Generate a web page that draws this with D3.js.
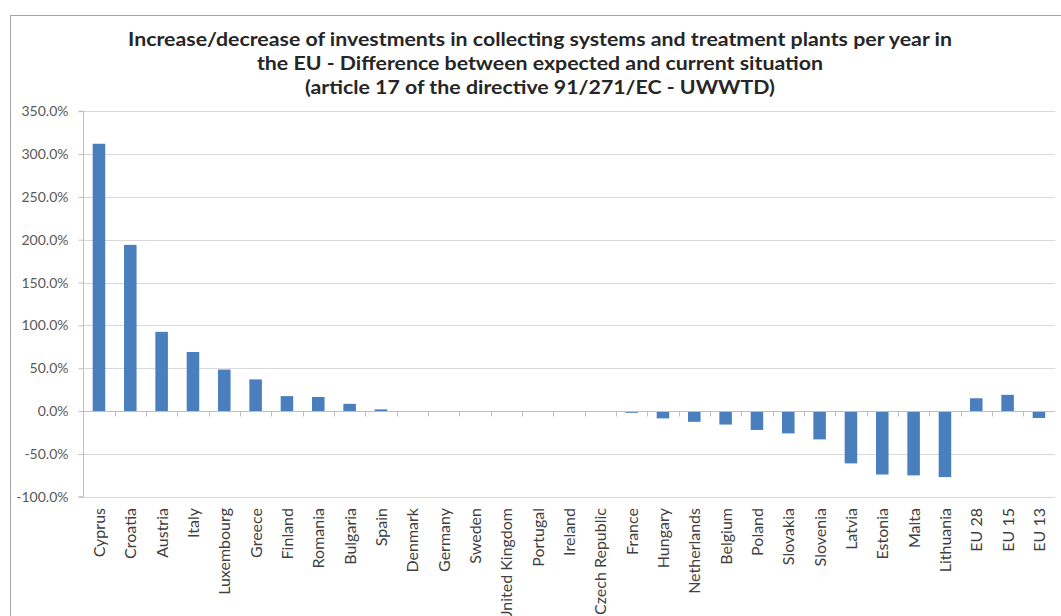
<!DOCTYPE html>
<html>
<head>
<meta charset="utf-8">
<script src="https://cdn.jsdelivr.net/npm/d3@7"></script>
<style>
  body { margin: 0; background: #fff; }
  svg { display: block; font-family: Lato, "Open Sans", sans-serif; }
</style>
</head>
<body>
<svg id="chart" width="1061" height="616"></svg>
<script>
// values (percent)
const countries = ["Cyprus", "Croatia", "Austria", "Italy", "Luxembourg", "Greece", "Finland", "Romania",
  "Bulgaria", "Spain", "Denmark", "Germany", "Sweden", "United Kingdom", "Portugal", "Ireland",
  "Czech Republic", "France", "Hungary", "Netherlands", "Belgium", "Poland", "Slovakia", "Slovenia",
  "Latvia", "Estonia", "Malta", "Lithuania", "EU 28", "EU 15", "EU 13"];
const change = [312, 194, 92.5, 69, 48.5, 37, 17.5, 16.5,
  8.5, 2, 0, 0, 0, 0, 0, 0,
  0, -2, -8.5, -12.5, -15.7, -22, -26, -33,
  -61, -74, -75, -77, 15, 19, -8];
const yTicks = [350, 300, 250, 200, 150, 100, 50, 0, -50, -100];
const titleLines = [
  "Increase/decrease of investments in collecting systems and treatment plants per year in",
  "the EU - Difference between expected and current situation",
  "(article 17 of the directive 91/271/EC - UWWTD)"
];

const svg = d3.select("#chart");

// chart frame
svg.append("rect")
  .attr("x", 10.5).attr("y", 15.5)
  .attr("width", 1070).attr("height", 620)
  .attr("fill", "#fff")
  .attr("stroke", "#a6a6a6");

const x = d3.scaleBand()
  .domain(countries)
  .range([83.3, 1054.6])
  .paddingInner(0.6)
  .paddingOuter(0.3);

const y = d3.scaleLinear()
  .domain([-100, 350])
  .range([496.8, 111.2]);

// gridlines
svg.append("g")
  .selectAll("line")
  .data(yTicks)
  .join("line")
  .attr("x1", 83).attr("x2", 1055)
  .attr("y1", d => Math.round(y(d)) + 0.5)
  .attr("y2", d => Math.round(y(d)) + 0.5)
  .attr("stroke", "#d9d9d9")
  .attr("stroke-width", 1.2);

// y axis
const yAxis = svg.append("g")
  .attr("transform", "translate(83.5,0)")
  .call(d3.axisLeft(y).tickValues(yTicks).tickSize(5).tickPadding(10)
    .tickFormat(d => d.toFixed(1) + "%"));
yAxis.select(".domain").attr("stroke", "#bfbfbf").attr("d", `M-5,${y(350)}H0V${y(-100)}H-5`);
yAxis.selectAll(".tick line").attr("stroke", "#bfbfbf");
yAxis.selectAll(".tick text")
  .attr("fill", "#595959")
  .style("font-size", "14px")
  .style("font-family", "Lato, sans-serif");

// bars
svg.append("g")
  .selectAll("rect")
  .data(countries.map((c, i) => ({ c, v: change[i] })))
  .join("rect")
  .attr("x", d => x(d.c))
  .attr("width", x.bandwidth())
  .attr("y", d => y(Math.max(0, d.v)))
  .attr("height", d => Math.abs(y(d.v) - y(0)))
  .attr("fill", "#4a7fbd");

// category axis on zero line
const gap = (x.step() - x.bandwidth()) / 2;
const z = Math.round(y(0)) + 0.5;
svg.append("line")
  .attr("x1", 83).attr("x2", 1055)
  .attr("y1", z).attr("y2", z)
  .attr("stroke", "#bfbfbf");
svg.append("g")
  .selectAll("line")
  .data(countries.slice(1))
  .join("line")
  .attr("x1", d => Math.round(x(d) - gap) + 0.5)
  .attr("x2", d => Math.round(x(d) - gap) + 0.5)
  .attr("y1", z).attr("y2", z + 5)
  .attr("stroke", "#bfbfbf");

// category labels (long ones run off the bottom, as in the original)
svg.append("g")
  .selectAll("text")
  .data(countries)
  .join("text")
  .attr("transform", d => `translate(${x(d) + x.bandwidth() / 2 + 6},508) rotate(-90)`)
  .attr("text-anchor", "end")
  .attr("fill", "#404040")
  .style("font-size", "16px")
  .text(d => d);

// title, squeezed horizontally like the narrow original font
const title = svg.append("g")
  .selectAll("text")
  .data(titleLines)
  .join("text")
  .attr("x", 540)
  .attr("y", (d, i) => 46 + i * 24)
  .attr("text-anchor", "middle")
  .attr("fill", "#262626")
  .style("font-size", "18px")
  .style("font-weight", "bold")
  .text(d => d);
const squeeze = 824 / title.nodes()[0].getComputedTextLength();
title.attr("textLength", function() { return this.getComputedTextLength() * squeeze; })
  .attr("lengthAdjust", "spacingAndGlyphs");
</script>
</body>
</html>
